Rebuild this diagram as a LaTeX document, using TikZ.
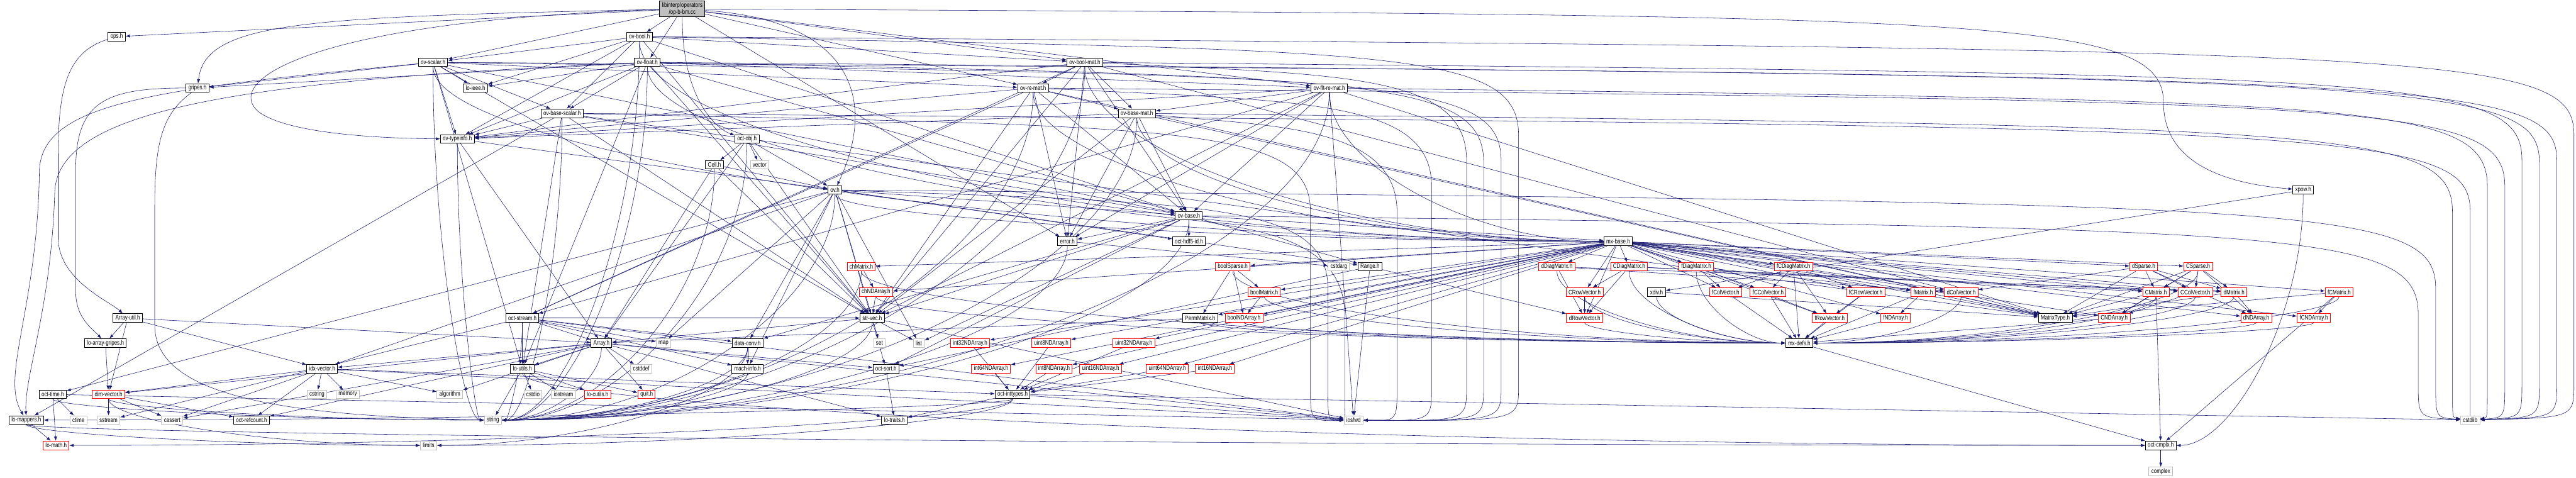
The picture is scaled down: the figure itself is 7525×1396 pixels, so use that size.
\documentclass[tikz,border=0pt]{standalone}
\usepackage{fontspec}
\newfontfamily\dfont[FakeStretch=0.78]{Liberation Sans}
\usetikzlibrary{arrows.meta,calc}
\pgfdeclarelayer{background}
\pgfdeclarelayer{paper}
\pgfsetlayers{paper,background,main}
\definecolor{edgecol}{RGB}{25,25,112}
\tikzset{
  bx/.style={line width=0.5pt, fill=white, font=\dfont\fontsize{5.4}{6}\selectfont, inner xsep=2pt, inner ysep=0pt, minimum height=0.25cm},
  nb/.style={bx, draw=black},
  nr/.style={bx, draw=red},
  ng/.style={bx, draw=gray!50},
  e/.style={draw=edgecol, line width=0.3pt, -{Latex[length=3.5pt,width=2.6pt]}}
}
\newcommand{\es}[2]{\draw[e] (#1) -- (#2);}
\newcommand{\ev}[2]{\draw[e] (#1) .. controls ($(#1)!0.5!(#2|-#1)$) and ($(#2)!0.5!(#2|-#1)$) .. (#2);}
\newcommand{\eh}[2]{\draw[e] (#1) .. controls ($(#1)!0.5!(#1|-#2)$) and ($(#2)!0.5!(#1|-#2)$) .. (#2);}
% long edge: source, x of vertical leg, y of horizontal run, bottom y of leg, target
\newcommand{\elong}[5]{\draw[e] (#1) .. controls (#2-350,#3) and (#2,#3) .. (#2,#3+250) -- (#2,#4) .. controls (#2,#4+100) .. (#5);}
\begin{document}
\begin{tikzpicture}[x=0.01cm,y=-0.01cm]
\begin{pgfonlayer}{paper}
\fill[white] (0,0) rectangle (7525,1396);
\end{pgfonlayer}
\useasboundingbox (0,0) rectangle (7525,1396);
% nodes
\node[nb, fill=gray!50, align=center, inner ysep=1pt, minimum height=0.4cm] (root) at (1993,26) {libinterp/operators\\/op-b-bm.cc};
\node[nb] (opsh) at (341,107) {ops.h};
\node[nb] (ovbool) at (1868,107) {ov-bool.h};
\node[nb] (gripes) at (577,257) {gripes.h};
\node[nb] (ovscalar) at (1265,182) {ov-scalar.h};
\node[nb] (ovfloat) at (1891,182) {ov-float.h};
\node[nb] (ovboolmat) at (3169,182) {ov-bool-mat.h};
\node[nb] (lieee) at (1389,257) {lo-ieee.h};
\node[nb] (ovremat) at (3018,257) {ov-re-mat.h};
\node[nb] (ovfltremat) at (3883,257) {ov-flt-re-mat.h};
\node[nb] (ovbasescalar) at (1642,331) {ov-base-scalar.h};
\node[nb] (ovbasemat) at (3321,331) {ov-base-mat.h};
\node[nb] (ovtypeinfo) at (1336,406) {ov-typeinfo.h};
\node[nb] (octobj) at (2182,406) {oct-obj.h};
\node[nb] (cell) at (2087,481) {Cell.h};
\node[ng] (vector) at (2219,481) {vector};
\node[nb] (ovh) at (2439,555) {ov.h};
\node[nb] (xpow) at (6728,555) {xpow.h};
\node[nb] (ovbase) at (3473,630) {ov-base.h};
\node[nb] (errorh) at (3118,705) {error.h};
\node[nb] (hdf5) at (3473,705) {oct-hdf5-id.h};
\node[nb] (mxbase) at (4727,705) {mx-base.h};
\node[nr] (chMatrix) at (2516,779) {chMatrix.h};
\node[nr] (boolSparse) at (3601,779) {boolSparse.h};
\node[ng] (cstdarg) at (3911,779) {cstdarg};
\node[nb] (Range) at (4002,779) {Range.h};
\node[nr] (dDiag) at (4548,779) {dDiagMatrix.h};
\node[nr] (CDiag) at (4759,779) {CDiagMatrix.h};
\node[nr] (fDiag) at (4955,779) {fDiagMatrix.h};
\node[nr] (fCDiag) at (5239,779) {fCDiagMatrix.h};
\node[nr] (dSparse) at (6262,779) {dSparse.h};
\node[nr] (CSparse) at (6421,779) {CSparse.h};
\node[nr] (chND) at (2559,853) {chNDArray.h};
\node[nr] (boolMatrix) at (3693,853) {boolMatrix.h};
\node[nr] (CRowVec) at (4629,853) {CRowVector.h};
\node[nb] (xdiv) at (4839,853) {xdiv.h};
\node[nr] (fColVec) at (5041,853) {fColVector.h};
\node[nr] (fCColVec) at (5165,853) {fCColVector.h};
\node[nr] (fCRowVec) at (5450,853) {fCRowVector.h};
\node[nr] (fMatrix) at (5618,853) {fMatrix.h};
\node[nr] (dColVec) at (5729,853) {dColVector.h};
\node[nr] (CMatrix) at (6298,853) {CMatrix.h};
\node[nr] (CColVec) at (6413,853) {CColVector.h};
\node[nr] (dMatrix) at (6526,853) {dMatrix.h};
\node[nr] (fCMatrix) at (6833,853) {fCMatrix.h};
\node[nb] (arrayutil) at (373,929) {Array-util.h};
\node[nb] (octstream) at (1526,929) {oct-stream.h};
\node[nb] (strvec) at (2548,929) {str-vec.h};
\node[nb] (PermMatrix) at (3506,929) {PermMatrix.h};
\node[nr] (boolND) at (3634,929) {boolNDArray.h};
\node[nr] (dRowVec) at (4629,929) {dRowVector.h};
\node[nr] (fRowVec) at (5345,929) {fRowVector.h};
\node[nr] (fNDArray) at (5537,929) {fNDArray.h};
\node[nb] (MatrixType) at (6004,929) {MatrixType.h};
\node[nr] (CNDArray) at (6176,929) {CNDArray.h};
\node[nr] (dNDArray) at (6591,929) {dNDArray.h};
\node[nr] (fCNDArray) at (6759,929) {fCNDArray.h};
\node[nb] (loarraygripes) at (308,1002) {lo-array-gripes.h};
\node[nb] (arrayh) at (1757,1002) {Array.h};
\node[ng] (mapn) at (1938,1002) {map};
\node[nb] (dataconv) at (2184,1002) {data-conv.h};
\node[ng] (setn) at (2569,1002) {set};
\node[ng] (listn) at (2684,1002) {list};
\node[nr] (int32) at (2834,1002) {int32NDArray.h};
\node[nr] (uint8) at (3071,1002) {uint8NDArray.h};
\node[nr] (uint32) at (3312,1002) {uint32NDArray.h};
\node[nb] (mxdefs) at (5256,1002) {mx-defs.h};
\node[nb] (idxvec) at (941,1077) {idx-vector.h};
\node[nb] (loutils) at (1526,1077) {lo-utils.h};
\node[ng] (cstddef) at (1873,1077) {cstddef};
\node[nb] (machinfo) at (2184,1077) {mach-info.h};
\node[nb] (octsort) at (2588,1077) {oct-sort.h};
\node[nr] (int64) at (2895,1077) {int64NDArray.h};
\node[nr] (int8) at (3079,1077) {int8NDArray.h};
\node[nr] (uint16) at (3215,1077) {uint16NDArray.h};
\node[nr] (uint64) at (3410,1077) {uint64NDArray.h};
\node[nr] (int16) at (3549,1077) {int16NDArray.h};
\node[nb] (octtime) at (154,1152) {oct-time.h};
\node[nr] (dimvec) at (317,1152) {dim-vector.h};
\node[ng] (cstring) at (926,1152) {cstring};
\node[ng] (memory) at (1016,1152) {memory};
\node[ng] (algorithm) at (1314,1152) {algorithm};
\node[ng] (cstdio) at (1557,1152) {cstdio};
\node[ng] (iostream) at (1646,1152) {iostream};
\node[nr] (locutils) at (1746,1152) {lo-cutils.h};
\node[nr] (quit) at (1889,1152) {quit.h};
\node[nb] (octinttypes) at (2958,1152) {oct-inttypes.h};
\node[nb] (lomappers) at (77,1227) {lo-mappers.h};
\node[ng] (ctime) at (229,1227) {ctime};
\node[ng] (sstream) at (317,1227) {sstream};
\node[ng] (cassert) at (503,1227) {cassert};
\node[nb] (octrefcount) at (735,1227) {oct-refcount.h};
\node[ng] (string) at (1440,1227) {string};
\node[nb] (lotraits) at (2613,1227) {lo-traits.h};
\node[ng] (iosfwd) at (3954,1227) {iosfwd};
\node[ng] (cstdlib) at (7216,1227) {cstdlib};
\node[nr] (lomath) at (164,1301) {lo-math.h};
\node[ng] (limits) at (1252,1301) {limits};
\node[nb] (octcmplx) at (6312,1301) {oct-cmplx.h};
\node[ng] (complex) at (6312,1377) {complex};
% edges
\begin{pgfonlayer}{background}
% root
\es{root}{opsh}
\draw[e] (root) .. controls (900,50) and (600,60) .. (gripes);
\draw[e] (root) .. controls (900,60) and (640,240) .. (760,330) .. controls (850,390) and (1100,404) .. (ovtypeinfo);
\es{root}{ovbool}\es{root}{ovfloat}\es{root}{ovscalar}
\es{root}{ovboolmat}\es{root}{ovremat}\es{root}{ovfltremat}
\draw[e] (root) .. controls (1993,300) and (2100,380) .. (octobj);
\draw[e] (root) .. controls (2500,60) and (2560,300) .. (ovh);
\draw[e] (root) .. controls (5800,45) and (6320,45) .. (6320,300) .. controls (6320,500) and (6550,540) .. (xpow);
\es{root}{errorh}
% ov-bool.h
\elong{ovbool}{7519}{145}{1120}{cstdlib}\elong{ovbool}{4436}{145}{1130}{iosfwd}
\eh{ovbool}{string}\es{ovbool}{lieee}\eh{ovbool}{mxbase}
\es{ovbool}{strvec}\es{ovbool}{ovbase}\es{ovbool}{ovbasescalar}\es{ovbool}{ovboolmat}
\es{ovbool}{ovscalar}\es{ovbool}{ovtypeinfo}
% ov-scalar.h
\elong{ovscalar}{7469}{220}{1120}{cstdlib}\elong{ovscalar}{4385}{220}{1130}{iosfwd}
\eh{ovscalar}{string}\es{ovscalar}{lieee}
\draw[e] (ovscalar) .. controls (450,260) and (120,300) .. (115,500) .. controls (110,900) and (0,1100) .. (lomappers);
\es{ovscalar}{loutils}\eh{ovscalar}{mxbase}\es{ovscalar}{strvec}
\es{ovscalar}{gripes}\es{ovscalar}{ovbase}\es{ovscalar}{ovremat}\es{ovscalar}{ovbasescalar}
\es{ovscalar}{ovtypeinfo}
% ov-float.h
\elong{ovfloat}{7418}{225}{1120}{cstdlib}\elong{ovfloat}{4334}{225}{1130}{iosfwd}
\eh{ovfloat}{string}\es{ovfloat}{lieee}
\draw[e] (ovfloat) .. controls (700,235) and (170,320) .. (160,560) .. controls (150,900) and (70,1100) .. (lomappers);
\es{ovfloat}{loutils}\eh{ovfloat}{mxbase}\es{ovfloat}{strvec}
\es{ovfloat}{gripes}\es{ovfloat}{ovbase}\es{ovfloat}{ovfltremat}\es{ovfloat}{ovbasescalar}
\es{ovfloat}{ovtypeinfo}
% ov-bool-mat.h
\elong{ovboolmat}{7367}{218}{1120}{cstdlib}\elong{ovboolmat}{4284}{218}{1130}{iosfwd}
\eh{ovboolmat}{string}\eh{ovboolmat}{mxbase}
\es{ovboolmat}{errorh}\es{ovboolmat}{octstream}\es{ovboolmat}{ovbase}\es{ovboolmat}{ovbasemat}
\es{ovboolmat}{ovremat}\es{ovboolmat}{ovtypeinfo}\es{ovboolmat}{MatrixType}\es{ovboolmat}{strvec}
% ov-re-mat.h
\elong{ovremat}{7317}{295}{1120}{cstdlib}\elong{ovremat}{4182}{295}{1130}{iosfwd}
\eh{ovremat}{string}\eh{ovremat}{mxbase}
\es{ovremat}{strvec}\es{ovremat}{errorh}\es{ovremat}{octstream}\es{ovremat}{ovbase}
\es{ovremat}{ovbasemat}\es{ovremat}{ovtypeinfo}\es{ovremat}{MatrixType}
% ov-flt-re-mat.h
\elong{ovfltremat}{7266}{295}{1120}{cstdlib}\es{ovfltremat}{iosfwd}
\eh{ovfltremat}{string}\eh{ovfltremat}{mxbase}
\es{ovfltremat}{strvec}\es{ovfltremat}{errorh}\es{ovfltremat}{octstream}\es{ovfltremat}{ovbase}
\es{ovfltremat}{ovbasemat}\es{ovfltremat}{ovtypeinfo}\es{ovfltremat}{MatrixType}
% ov-base-scalar.h
\elong{ovbasescalar}{7216}{369}{1120}{cstdlib}\elong{ovbasescalar}{3828}{369}{1130}{iosfwd}
\eh{ovbasescalar}{string}
\es{ovbasescalar}{lomappers}\es{ovbasescalar}{loutils}\es{ovbasescalar}{strvec}
\es{ovbasescalar}{MatrixType}\es{ovbasescalar}{ovbase}\es{ovbasescalar}{ovtypeinfo}
% ov-base-mat.h
\elong{ovbasemat}{7164}{369}{1120}{cstdlib}\elong{ovbasemat}{4081}{369}{1130}{iosfwd}
\eh{ovbasemat}{string}\eh{ovbasemat}{mxbase}
\es{ovbasemat}{strvec}\es{ovbasemat}{MatrixType}\es{ovbasemat}{errorh}\es{ovbasemat}{ovbase}
\es{ovbasemat}{ovtypeinfo}
% ov-typeinfo.h, oct-obj.h, Cell.h
\eh{ovtypeinfo}{string}\es{ovtypeinfo}{arrayh}\es{ovtypeinfo}{ovh}
\eh{octobj}{string}\es{octobj}{vector}\es{octobj}{arrayh}\es{octobj}{cell}\es{octobj}{strvec}\es{octobj}{ovh}
\eh{cell}{string}\es{cell}{arrayh}\es{cell}{strvec}\es{cell}{ovh}
% ov.h
\elong{ovh}{7115}{593}{1120}{cstdlib}\elong{ovh}{3879}{593}{1130}{iosfwd}
\eh{ovh}{string}\es{ovh}{listn}\es{ovh}{mapn}\es{ovh}{Range}
\es{ovh}{dataconv}\es{ovh}{idxvec}\es{ovh}{machinfo}\eh{ovh}{mxbase}\es{ovh}{octtime}
\es{ovh}{strvec}\es{ovh}{hdf5}\es{ovh}{octsort}\es{ovh}{ovbase}
% ov-base.h
\elong{ovbase}{7064}{668}{1120}{cstdlib}\elong{ovbase}{3928}{668}{1130}{iosfwd}
\eh{ovbase}{string}\es{ovbase}{listn}\es{ovbase}{Range}
\es{ovbase}{dataconv}\es{ovbase}{mxbase}\es{ovbase}{strvec}\es{ovbase}{errorh}\es{ovbase}{hdf5}
\es{ovbase}{octsort}
% error.h
\es{errorh}{cstdarg}\eh{errorh}{string}
% mx-base.h
\es{mxbase}{MatrixType}\es{mxbase}{boolMatrix}\es{mxbase}{chMatrix}\es{mxbase}{dMatrix}
\es{mxbase}{CMatrix}\es{mxbase}{fMatrix}\es{mxbase}{fCMatrix}\es{mxbase}{dColVec}
\es{mxbase}{CColVec}\es{mxbase}{fColVec}\es{mxbase}{fCColVec}\es{mxbase}{dRowVec}
\es{mxbase}{CRowVec}\es{mxbase}{fRowVec}\es{mxbase}{fCRowVec}\es{mxbase}{dDiag}
\es{mxbase}{CDiag}\es{mxbase}{fDiag}\es{mxbase}{fCDiag}\es{mxbase}{PermMatrix}
\es{mxbase}{dSparse}\es{mxbase}{CSparse}\es{mxbase}{boolSparse}\es{mxbase}{boolND}
\es{mxbase}{chND}\es{mxbase}{dNDArray}\es{mxbase}{CNDArray}\es{mxbase}{fNDArray}
\es{mxbase}{fCNDArray}\es{mxbase}{int8}\es{mxbase}{int16}\es{mxbase}{int32}\es{mxbase}{int64}
\es{mxbase}{uint8}\es{mxbase}{uint16}\es{mxbase}{uint32}\es{mxbase}{uint64}
% misc
\es{Range}{iosfwd}\es{Range}{dRowVec}\es{Range}{octsort}
\es{dataconv}{machinfo}\eh{dataconv}{limits}\eh{dataconv}{string}
\eh{machinfo}{string}
\es{octtime}{ctime}\es{octtime}{iosfwd}\es{octtime}{lomath}\eh{octtime}{string}
\es{strvec}{iosfwd}\es{strvec}{listn}\es{strvec}{setn}\eh{strvec}{string}\es{strvec}{arrayh}
\es{chMatrix}{chND}\eh{chMatrix}{string}\eh{chMatrix}{mxdefs}
\es{chND}{strvec}\eh{chND}{mxdefs}
\es{boolSparse}{PermMatrix}\es{boolSparse}{boolND}\es{boolSparse}{boolMatrix}\eh{boolSparse}{mxdefs}
\es{boolMatrix}{boolND}\eh{boolMatrix}{mxdefs}
\es{PermMatrix}{arrayh}\eh{PermMatrix}{mxdefs}
\eh{boolND}{mxdefs}
\es{int32}{octinttypes}\es{uint8}{octinttypes}\es{uint32}{octinttypes}\es{int64}{octinttypes}
\es{int8}{octinttypes}\es{uint16}{octinttypes}\es{uint64}{octinttypes}\es{int16}{octinttypes}
\eh{octinttypes}{limits}\es{octinttypes}{iosfwd}\es{octinttypes}{lotraits}\eh{octinttypes}{lomath}
\eh{octinttypes}{lomappers}\es{octinttypes}{cstdlib}
\es{octsort}{lotraits}
\es{arrayh}{cassert}\es{arrayh}{cstddef}\es{arrayh}{algorithm}\es{arrayh}{iosfwd}\es{arrayh}{dimvec}
\es{arrayh}{idxvec}\es{arrayh}{lotraits}\es{arrayh}{loutils}\es{arrayh}{octsort}\es{arrayh}{quit}
\es{arrayh}{octrefcount}\eh{arrayh}{string}
\es{octstream}{iosfwd}\es{octstream}{sstream}\eh{octstream}{string}\es{octstream}{mapn}
\es{octstream}{arrayh}\es{octstream}{dataconv}\es{octstream}{loutils}\es{octstream}{machinfo}
\es{octstream}{strvec}
\es{loutils}{cstdio}\es{loutils}{iostream}\es{loutils}{string}\es{loutils}{locutils}
\es{loutils}{quit}\eh{loutils}{octcmplx}
\es{arrayutil}{arrayh}\es{arrayutil}{dimvec}\es{arrayutil}{idxvec}\es{arrayutil}{loarraygripes}
\es{loarraygripes}{dimvec}
\draw[e] (gripes) .. controls (300,257) and (221,300) .. (221,500) -- (221,850) .. controls (221,930) and (270,960) .. (loarraygripes);
\draw[e] (gripes) .. controls (480,330) and (452,400) .. (452,600) -- (452,950) .. controls (452,1150) and (800,1215) .. (string);
\draw[e] (opsh) .. controls (200,150) and (170,250) .. (170,450) -- (170,700) .. controls (175,820) and (320,880) .. (arrayutil);
\eh{xpow}{octcmplx}\es{xpow}{xdiv}
\es{dimvec}{cassert}\eh{dimvec}{limits}\es{dimvec}{sstream}\eh{dimvec}{string}\es{dimvec}{octrefcount}
\es{idxvec}{cassert}\es{idxvec}{cstring}\es{idxvec}{memory}\es{idxvec}{algorithm}\es{idxvec}{iosfwd}
\es{idxvec}{dimvec}\es{idxvec}{octinttypes}\es{idxvec}{octrefcount}
\es{lomappers}{lomath}\eh{lomappers}{octcmplx}\eh{lomappers}{limits}
\es{octcmplx}{complex}
\es{mxdefs}{octcmplx}
\es{dDiag}{dRowVec}\es{dDiag}{dColVec}\es{dDiag}{dMatrix}\eh{dDiag}{mxdefs}
\es{CDiag}{CRowVec}\es{CDiag}{dRowVec}\es{CDiag}{CColVec}\es{CDiag}{CMatrix}\eh{CDiag}{mxdefs}
\es{fDiag}{fRowVec}\es{fDiag}{fColVec}\es{fDiag}{fMatrix}\eh{fDiag}{mxdefs}
\es{fCDiag}{fColVec}\es{fCDiag}{fCColVec}\es{fCDiag}{fRowVec}\es{fCDiag}{fCRowVec}\es{fCDiag}{mxdefs}
\es{CRowVec}{dRowVec}\eh{CRowVec}{mxdefs}
\eh{dRowVec}{mxdefs}
\es{xdiv}{MatrixType}\eh{xdiv}{mxdefs}
\es{fColVec}{mxdefs}\es{fCColVec}{mxdefs}\es{fCRowVec}{fRowVec}\es{fCRowVec}{mxdefs}
\es{fRowVec}{mxdefs}\es{fMatrix}{fNDArray}\es{fMatrix}{mxdefs}\es{fMatrix}{MatrixType}
\es{fNDArray}{mxdefs}\eh{dColVec}{mxdefs}\es{CNDArray}{mxdefs}
\es{dSparse}{dColVec}\es{dSparse}{MatrixType}\es{dSparse}{dMatrix}\es{dSparse}{CColVec}
\es{dSparse}{CMatrix}\es{dSparse}{dNDArray}
\es{CSparse}{CMatrix}\es{CSparse}{CColVec}\es{CSparse}{dMatrix}\es{CSparse}{dNDArray}
\es{CSparse}{MatrixType}\es{CSparse}{CNDArray}\eh{CSparse}{mxdefs}
\es{CMatrix}{octcmplx}\es{CMatrix}{MatrixType}\eh{CMatrix}{mxdefs}\es{CMatrix}{CNDArray}
\eh{CColVec}{mxdefs}\es{CColVec}{CNDArray}
\es{dMatrix}{dNDArray}\eh{dMatrix}{mxdefs}\es{dMatrix}{MatrixType}
\es{fCMatrix}{fCNDArray}\es{fCMatrix}{octcmplx}\es{fCMatrix}{MatrixType}\eh{fCMatrix}{mxdefs}
\eh{dNDArray}{mxdefs}\eh{fCNDArray}{mxdefs}
\end{pgfonlayer}
\end{tikzpicture}
\end{document}
